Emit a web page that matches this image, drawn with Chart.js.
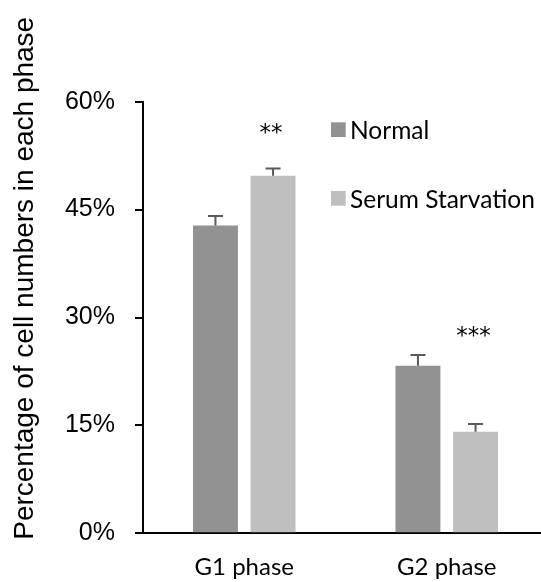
<!DOCTYPE html>
<html><head><meta charset="utf-8">
<script src="https://cdn.jsdelivr.net/npm/chart.js@4"></script>
<style>html,body{margin:0;padding:0;background:#fff;overflow:hidden;width:541px;height:582px;} canvas{display:block;}</style>
</head><body>
<canvas id="c" width="560" height="582"></canvas>
<script>
const categories = ['G1 phase', 'G2 phase'];
const seriesNames = ['Normal', 'Serum Starvation'];
const normalValues = [42.8, 23.3];
const normalErrors = [1.3, 1.5];
const starvationValues = [49.7, 14.1];
const starvationErrors = [1.0, 1.1];
const significanceLabels = ['**', '***'];
const significanceAt = [56.3, 28.1];
const yTickValues = [0, 15, 30, 45, 60];
const yTitle = 'Percentage of cell numbers in each phase';

const colors = ['#929292', '#bfbfbf'];
const errorSets = [normalErrors, starvationErrors];

const overlay = {
  id: 'overlay',
  afterDatasetsDraw(chart) {
    const ctx = chart.ctx;
    const ys = chart.scales.y;
    chart.data.datasets.forEach((ds, di) => {
      const meta = chart.getDatasetMeta(di);
      meta.data.forEach((bar, i) => {
        const top = ys.getPixelForValue(ds.data[i] + errorSets[di][i]);
        ctx.save();
        ctx.strokeStyle = '#595959';
        ctx.lineWidth = 2;
        ctx.beginPath();
        ctx.moveTo(bar.x, bar.y);
        ctx.lineTo(bar.x, top);
        ctx.moveTo(bar.x - 7.5, top);
        ctx.lineTo(bar.x + 7.5, top);
        ctx.stroke();
        ctx.restore();
      });
    });
    const meta1 = chart.getDatasetMeta(1);
    ctx.save();
    ctx.fillStyle = '#000';
    ctx.font = '23px "DejaVu Sans"';
    ctx.textAlign = 'center';
    ctx.textBaseline = 'alphabetic';
    significanceLabels.forEach((lab, i) => {
      const m = ctx.measureText(lab);
      const cy = ys.getPixelForValue(significanceAt[i]);
      const yb = cy + (m.actualBoundingBoxAscent - m.actualBoundingBoxDescent) / 2;
      ctx.fillText(lab, meta1.data[i].x - 2, yb);
    });
    ctx.restore();
  },
  afterDraw(chart) {
    const ctx = chart.ctx;
    const legendBoxes = [[331, 122.3], [331, 191]];
    const legendBase = [138.5, 207.5];
    ctx.save();
    chart.data.datasets.forEach((ds, i) => {
      ctx.fillStyle = ds.backgroundColor;
      ctx.fillRect(legendBoxes[i][0], legendBoxes[i][1], 14.7, 14.7);
      ctx.fillStyle = '#000';
      ctx.font = '24.5px Lato';
      ctx.textAlign = 'left';
      ctx.textBaseline = 'alphabetic';
      ctx.fillText(ds.label, 350, legendBase[i]);
    });
    ctx.translate(33, 278.3);
    ctx.rotate(-Math.PI / 2);
    ctx.font = '28px "Liberation Sans", Arial';
    ctx.textAlign = 'center';
    ctx.textBaseline = 'alphabetic';
    ctx.fillStyle = '#000';
    ctx.fillText(yTitle, 0, 0);
    ctx.restore();
  }
};

new Chart(document.getElementById('c'), {
  type: 'bar',
  data: {
    labels: categories,
    datasets: [
      { label: seriesNames[0], data: normalValues, backgroundColor: colors[0], barPercentage: 0.78, categoryPercentage: 0.569 },
      { label: seriesNames[1], data: starvationValues, backgroundColor: colors[1], barPercentage: 0.78, categoryPercentage: 0.569 }
    ]
  },
  options: {
    responsive: false,
    devicePixelRatio: 1,
    animation: false,
    layout: { padding: { top: 101.7, right: 12, left: 0, bottom: 0 } },
    plugins: { legend: { display: false }, tooltip: { enabled: false }, title: { display: false } },
    scales: {
      x: {
        offset: true,
        grid: { display: false, drawTicks: false },
        border: { display: true, color: '#000', width: 2 },
        ticks: { color: '#000', font: { family: 'Lato', size: 24 }, padding: 20 },
        afterFit(scale) { scale.height = 48.7; }
      },
      y: {
        min: 0, max: 60,
        afterBuildTicks(scale) { scale.ticks = yTickValues.map(v => ({ value: v })); },
        grid: { drawOnChartArea: false, drawTicks: true, tickLength: 8, color: '#000', lineWidth: 2 },
        border: { display: true, color: '#000', width: 2 },
        ticks: { color: '#000', font: { family: '"Liberation Sans", Arial', size: 25 }, padding: 20, callback: v => v + '%' },
        afterFit(scale) { scale.width = 143; }
      }
    }
  },
  plugins: [overlay]
});
</script>
</body></html>
